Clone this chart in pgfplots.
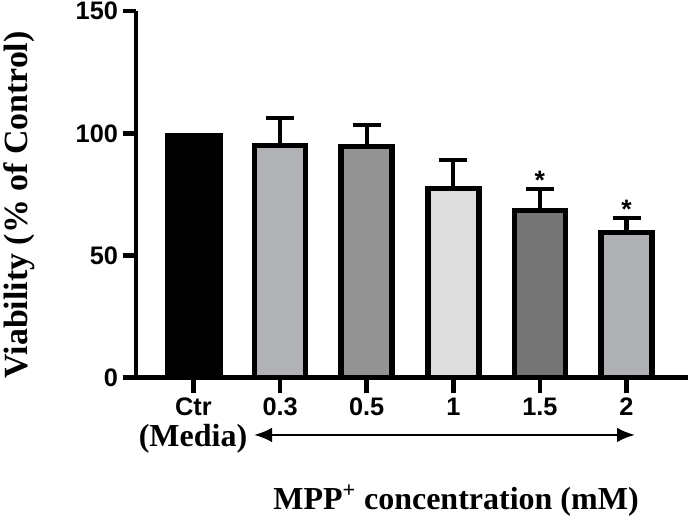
\documentclass[border=0pt]{standalone}
\usepackage{fontspec}
\setmainfont{Liberation Serif}
\newfontfamily\sansf{Liberation Sans}
\usepackage{pgfplots}
\pgfplotsset{compat=1.18}
\usetikzlibrary{arrows.meta}
\definecolor{cA}{HTML}{B1B2B6}
\definecolor{cB}{HTML}{939393}
\definecolor{cC}{HTML}{DDDDDD}
\definecolor{cD}{HTML}{757575}
\definecolor{cE}{HTML}{AFB0B4}
\pgfplotsset{
  mybar/.style={ybar, bar shift=0pt, bar width=38.25pt, draw=black, line width=4.1pt,
    /pgfplots/error bars/y dir=plus, /pgfplots/error bars/y explicit,
    /pgfplots/error bars/error bar style={line width=3.2pt, black},
    /pgfplots/error bars/error mark options={rotate=90, line width=3pt, mark size=10.5pt, black}},
}
\begin{document}
\begin{tikzpicture}
\begin{axis}[
  at={(0,0)}, anchor=south west,
  scale only axis, width=414pt, height=274.7pt,
  xmin=-0.664, xmax=5.71, ymin=0, ymax=150,
  axis x line=bottom, axis y line=left,
  axis line style={-, line width=3.4pt, black},
  tick align=outside,
  tick style={line width=3.4pt, black},
  major tick length=10pt,
  xtick style={/pgfplots/major tick length=12pt},
  xtick={0,1,2,3,4,5},
  xticklabels={Ctr,0.3,0.5,1,1.5,2},
  ytick={0,50,100,150},
  minor tick num=0,
  ticklabel style={font=\sansf\bfseries\fontsize{19}{20}\selectfont},
  xticklabel style={anchor=base, inner sep=0pt, yshift=-18.75pt},
  /pgf/number format/assume math mode=true,
  clip=false,
]
\addplot[ybar, bar shift=0pt, bar width=43.5pt, fill=black, draw=none] coordinates {(0,100)};
\addplot[mybar, fill=cA] coordinates {(1,95.0) +- (0,11.3)};
\addplot[mybar, fill=cB] coordinates {(2,94.5) +- (0,9.0)};
\addplot[mybar, fill=cC] coordinates {(3,77.3) +- (0,11.6)};
\addplot[mybar, fill=cD] coordinates {(4,68.3) +- (0,8.8)};
\addplot[mybar, fill=cE] coordinates {(5,59.4) +- (0,5.8)};
\addplot[sharp plot, draw=none, mark=none, nodes near coords={*},
  every node near coord/.append style={anchor=center, font=\sansf\bfseries\fontsize{20}{20}\selectfont, yshift=-4pt}]
  coordinates {(4,82.9) (5,71.0)};
\end{axis}
\node[rotate=90, anchor=base, font=\bfseries\fontsize{25.4}{28}\selectfont] at (-81pt,129.4pt) {Viability (\% of Control)};
\node[anchor=base, font=\bfseries\fontsize{24}{28}\selectfont] at (240pt,-99.4pt) {MPP\textsuperscript{+} concentration (mM)};
\node[anchor=base, inner sep=0pt, font=\bfseries\fontsize{24}{28}\selectfont] at (42.75pt,-51.9pt) {(Media)};
\draw[{Latex[length=13.5pt,width=11pt]}-{Latex[length=13.5pt,width=11pt]}, line width=1.9pt] (88.5pt,-43.1pt) -- (374.25pt,-43.1pt);
\pgfresetboundingbox
\path (-102pt,-106.9pt) rectangle (414pt,283.1pt);
\end{tikzpicture}
\end{document}
